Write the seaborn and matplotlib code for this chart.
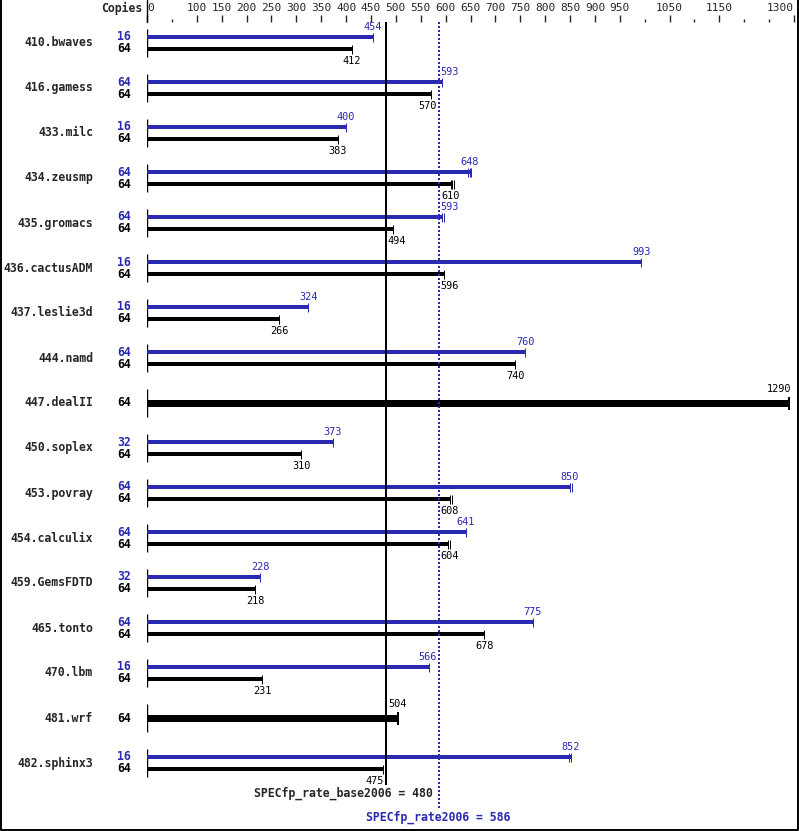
import numpy as np
import pandas as pd
import matplotlib
matplotlib.use('Agg')
import matplotlib.pyplot as plt
from matplotlib.lines import Line2D
import seaborn as sns

# SPECfp_rate2006 per-benchmark ratios
benchmarks = ['410.bwaves', '416.gamess', '433.milc', '434.zeusmp', '435.gromacs',
              '436.cactusADM', '437.leslie3d', '444.namd', '447.dealII', '450.soplex',
              '453.povray', '454.calculix', '459.GemsFDTD', '465.tonto', '470.lbm',
              '481.wrf', '482.sphinx3']
peak_copies = [16, 64, 16, 64, 64, 16, 16, 64, None, 32, 64, 64, 32, 64, 16, None, 16]
peak_ratio = [454, 593, 400, 648, 593, 993, 324, 760, None, 373, 850, 641, 228, 775, 566, None, 852]
base_copies = [64] * 17
base_ratio = [412, 570, 383, 610, 494, 596, 266, 740, 1290, 310, 608, 604, 218, 678, 231, 504, 475]

# extra run ticks (non-median runs) where they show up
peak_extra = {'434.zeusmp': [644, 652], '435.gromacs': [596], '453.povray': [854], '482.sphinx3': [848]}
base_extra = {'434.zeusmp': [613, 616], '453.povray': [612], '454.calculix': [608]}

base_score = 480
peak_score = 586

major_ticks = [0, 100, 150, 200, 250, 300, 350, 400, 450, 500, 550, 600, 650, 700,
               750, 800, 850, 900, 950, 1050, 1150, 1300]
minor_ticks = [50, 1000, 1100, 1200, 1250]

BLUE = '#2a2ab0'
W, H = 799, 831

sns.set_style('white')
plt.rcParams['font.family'] = ['DejaVu Sans Mono', 'DejaVu Sans']

fig = plt.figure(figsize=(W / 100, H / 100), dpi=100)
ax = fig.add_axes([147 / W, 0, (794 - 147) / W, (H - 22) / H])
ax.set_xlim(0, 1300)
ax.set_ylim((H - 43) / 45, -21 / 45)
for s in ax.spines.values():
    s.set_visible(False)

PX = 0.72   # points per pixel
ppu = 647 / 1300  # pixels per data unit

# build long table of bars
rows = []
for i, b in enumerate(benchmarks):
    if peak_ratio[i] is None:
        rows.append(dict(bench=b, kind='base', y=i, val=base_ratio[i], copies=base_copies[i], lw=5))
    else:
        rows.append(dict(bench=b, kind='peak', y=i - 6 / 45, val=peak_ratio[i], copies=peak_copies[i], lw=2))
        rows.append(dict(bench=b, kind='base', y=i + 6 / 45, val=base_ratio[i], copies=base_copies[i], lw=2))
df = pd.DataFrame(rows)

# group start ticks
ax.vlines([0] * len(benchmarks), np.arange(len(benchmarks)) - 14 / 45,
          np.arange(len(benchmarks)) + 14 / 45, color='black', lw=1.0)

refs = [base_score, peak_score]

def label_pos(val, n):
    half = n * 3 / ppu
    if val + half > 1300:
        return val + 2 / ppu, 'right'
    for r in refs:
        if val - half < r + 1 / ppu and val + half > r - 1 / ppu:
            if val >= r:
                return r + 2 / ppu + half, 'center'
            return r - 2 / ppu - half, 'center'
    return val, 'center'

tick_pts = []
for _, r in df.iterrows():
    col = BLUE if r.kind == 'peak' else 'black'
    ax.hlines(r.y, 0, r.val, color=col, lw=(r.lw + 0.2) * PX, antialiased=False)
    extra = (peak_extra if r.kind == 'peak' else base_extra).get(r.bench, [])
    for v in [r.val] + extra:
        tick_pts.append(dict(x=v, y=r.y, kind=r.kind, size=9 if r.lw == 2 else 13))
    txt = str(int(r.val))
    lx, ha = label_pos(r.val, len(txt))
    if r.kind == 'peak':
        ax.annotate(txt, (lx, r.y), xytext=(0, 10 * PX), textcoords='offset points',
                    ha=ha, va='center', color=BLUE, fontsize=7.4)
    else:
        off = 12 if r.lw == 2 else -14
        ax.annotate(txt, (lx, r.y), xytext=(0, -off * PX), textcoords='offset points',
                    ha=ha, va='center', color='black', fontsize=7.4)
    ax.annotate(str(int(r.copies)), (0, r.y), xytext=(-16 * PX, 0), textcoords='offset points',
                ha='right', va='center', color=col, fontsize=8.3, fontweight='bold')

ticks_df = pd.DataFrame(tick_pts)
for kind, col in [('peak', BLUE), ('base', 'black')]:
    sub = ticks_df[ticks_df.kind == kind]
    for sz in sub['size'].unique():
        s2 = sub[sub['size'] == sz]
        sns.scatterplot(data=s2, x='x', y='y', marker='|', s=(sz * PX) ** 2, color=col,
                        linewidth=1.0 * PX if sz == 9 else 2 * PX, ax=ax, legend=False, clip_on=False)

for i, b in enumerate(benchmarks):
    ax.annotate(b, (0, i), xytext=(-54 * PX, 0), textcoords='offset points',
                ha='right', va='center', fontsize=8.3, fontweight='bold')

# reference lines
ax.vlines(base_score, -21 / 45, (785 - 43) / 45, color='black', lw=2 * PX, antialiased=False)
ax.vlines(peak_score, -21 / 45, (808 - 43) / 45, color=BLUE, lw=2 * PX, linestyles=(0, (1, 1)))
ax.text((433 - 147) / ppu, (793 - 43) / 45, f'SPECfp_rate_base2006 = {base_score}',
        ha='right', va='center', fontsize=8.3, fontweight='bold')
ax.text(peak_score, (817 - 43) / 45, f'SPECfp_rate2006 = {peak_score}',
        ha='center', va='center', fontsize=8.3, fontweight='bold', color=BLUE)

# top scale
ax.xaxis.tick_top()
ax.set_xticks(major_ticks, [str(t) for t in major_ticks])
ax.set_xticks(minor_ticks, minor=True)
ax.tick_params(axis='x', which='major', length=7 * PX, width=1, direction='out', pad=1.5,
               labelsize=8, top=True, bottom=False)
ax.tick_params(axis='x', which='minor', length=3 * PX, width=1, direction='out', top=True, bottom=False)
ax.tick_params(axis='y', left=False, labelleft=False)
for lbl in ax.get_xticklabels():
    if lbl.get_text() == '0':
        lbl.set_ha('left')
    elif lbl.get_text() == '1300':
        lbl.set_ha('right')
ax.set_xlabel('')
ax.set_ylabel('')
fig.text(142 / W, 1 - 8 / H, 'Copies', ha='right', va='center', fontsize=8.3, fontweight='bold')

# zero line up to top edge and frame
fig.add_artist(Line2D([147 / W, 147 / W], [1 - 22 / H, 1], color='black', lw=1))
fig.add_artist(Line2D([0.5 / W, 0.5 / W, 1 - 1.5 / W, 1 - 1.5 / W], [1, 1.5 / H, 1.5 / H, 1],
                      color='black', lw=1.4))

fig.savefig('out.png', dpi=100)
